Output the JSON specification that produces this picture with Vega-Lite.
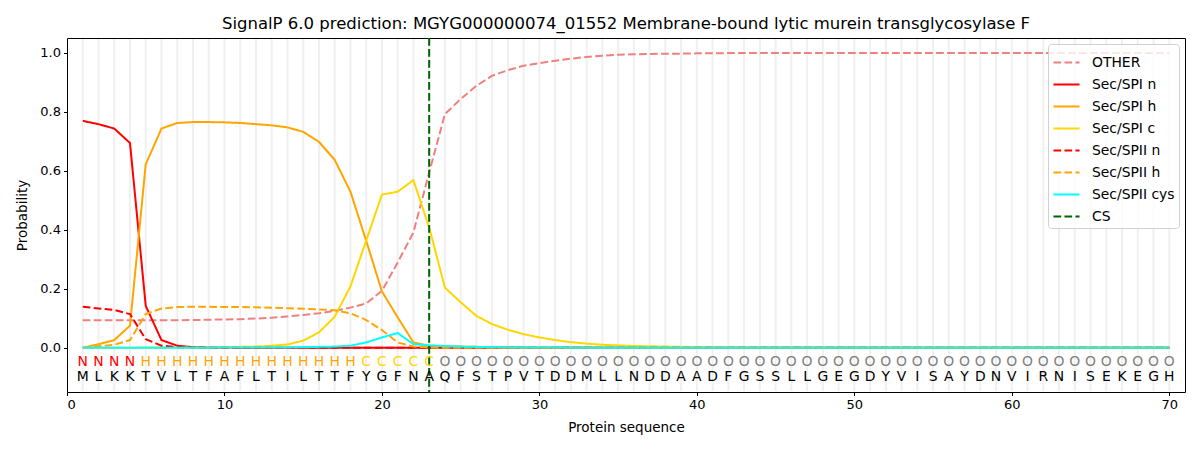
{
  "$schema": "https://vega.github.io/schema/vega-lite/v6.json",
  "autosize": {"type": "none"},
  "padding": {"left": 67, "top": 38, "right": 15, "bottom": 58},
  "width": 1118,
  "height": 354,
  "title": {
    "text": "SignalP 6.0 prediction: MGYG000000074_01552 Membrane-bound lytic murein transglycosylase F",
    "font": "DejaVu Sans",
    "fontSize": 16.5,
    "fontWeight": "normal",
    "color": "black",
    "offset": 5
  },
  "datasets": {
    "seq": [
      {"pos": 1, "aa": "M", "lab": "N", "other": 0.093, "spin": 0.769, "spih": 0.000, "spic": 0.000, "spiin": 0.139, "spiih": 0.000, "cys": 0.000},
      {"pos": 2, "aa": "L", "lab": "N", "other": 0.093, "spin": 0.758, "spih": 0.012, "spic": 0.000, "spiin": 0.133, "spiih": 0.005, "cys": 0.000},
      {"pos": 3, "aa": "K", "lab": "N", "other": 0.093, "spin": 0.743, "spih": 0.026, "spic": 0.000, "spiin": 0.128, "spiih": 0.010, "cys": 0.000},
      {"pos": 4, "aa": "K", "lab": "N", "other": 0.093, "spin": 0.694, "spih": 0.075, "spic": 0.000, "spiin": 0.114, "spiih": 0.026, "cys": 0.000},
      {"pos": 5, "aa": "T", "lab": "H", "other": 0.093, "spin": 0.142, "spih": 0.622, "spic": 0.001, "spiin": 0.029, "spiih": 0.114, "cys": 0.000},
      {"pos": 6, "aa": "V", "lab": "H", "other": 0.093, "spin": 0.026, "spih": 0.743, "spic": 0.001, "spiin": 0.007, "spiih": 0.133, "cys": 0.000},
      {"pos": 7, "aa": "L", "lab": "H", "other": 0.093, "spin": 0.007, "spih": 0.762, "spic": 0.001, "spiin": 0.002, "spiih": 0.138, "cys": 0.000},
      {"pos": 8, "aa": "T", "lab": "H", "other": 0.094, "spin": 0.002, "spih": 0.765, "spic": 0.001, "spiin": 0.001, "spiih": 0.139, "cys": 0.000},
      {"pos": 9, "aa": "F", "lab": "H", "other": 0.095, "spin": 0.001, "spih": 0.765, "spic": 0.001, "spiin": 0.000, "spiih": 0.139, "cys": 0.000},
      {"pos": 10, "aa": "A", "lab": "H", "other": 0.096, "spin": 0.001, "spih": 0.764, "spic": 0.002, "spiin": 0.000, "spiih": 0.138, "cys": 0.001},
      {"pos": 11, "aa": "F", "lab": "H", "other": 0.097, "spin": 0.000, "spih": 0.762, "spic": 0.003, "spiin": 0.000, "spiih": 0.138, "cys": 0.001},
      {"pos": 12, "aa": "L", "lab": "H", "other": 0.099, "spin": 0.000, "spih": 0.758, "spic": 0.004, "spiin": 0.000, "spiih": 0.137, "cys": 0.001},
      {"pos": 13, "aa": "T", "lab": "H", "other": 0.102, "spin": 0.000, "spih": 0.754, "spic": 0.007, "spiin": 0.000, "spiih": 0.136, "cys": 0.001},
      {"pos": 14, "aa": "I", "lab": "H", "other": 0.106, "spin": 0.000, "spih": 0.747, "spic": 0.011, "spiin": 0.000, "spiih": 0.134, "cys": 0.001},
      {"pos": 15, "aa": "L", "lab": "H", "other": 0.111, "spin": 0.000, "spih": 0.732, "spic": 0.024, "spiin": 0.000, "spiih": 0.132, "cys": 0.002},
      {"pos": 16, "aa": "T", "lab": "H", "other": 0.117, "spin": 0.000, "spih": 0.698, "spic": 0.052, "spiin": 0.000, "spiih": 0.130, "cys": 0.003},
      {"pos": 17, "aa": "T", "lab": "H", "other": 0.125, "spin": 0.000, "spih": 0.637, "spic": 0.105, "spiin": 0.000, "spiih": 0.127, "cys": 0.004},
      {"pos": 18, "aa": "F", "lab": "H", "other": 0.136, "spin": 0.000, "spih": 0.529, "spic": 0.208, "spiin": 0.000, "spiih": 0.117, "cys": 0.007},
      {"pos": 19, "aa": "Y", "lab": "C", "other": 0.150, "spin": 0.000, "spih": 0.363, "spic": 0.363, "spiin": 0.000, "spiih": 0.094, "cys": 0.018},
      {"pos": 20, "aa": "G", "lab": "C", "other": 0.193, "spin": 0.000, "spih": 0.191, "spic": 0.519, "spiin": 0.000, "spiih": 0.060, "cys": 0.035},
      {"pos": 21, "aa": "F", "lab": "C", "other": 0.289, "spin": 0.000, "spih": 0.103, "spic": 0.529, "spiin": 0.000, "spiih": 0.018, "cys": 0.050},
      {"pos": 22, "aa": "N", "lab": "C", "other": 0.391, "spin": 0.000, "spih": 0.018, "spic": 0.568, "spiin": 0.000, "spiih": 0.004, "cys": 0.012},
      {"pos": 23, "aa": "A", "lab": "C", "other": 0.594, "spin": 0.000, "spih": 0.007, "spic": 0.408, "spiin": 0.000, "spiih": 0.001, "cys": 0.008},
      {"pos": 24, "aa": "Q", "lab": "O", "other": 0.792, "spin": 0.000, "spih": 0.005, "spic": 0.204, "spiin": 0.000, "spiih": 0.000, "cys": 0.006},
      {"pos": 25, "aa": "F", "lab": "O", "other": 0.843, "spin": 0.000, "spih": 0.004, "spic": 0.154, "spiin": 0.000, "spiih": 0.000, "cys": 0.004},
      {"pos": 26, "aa": "S", "lab": "O", "other": 0.888, "spin": 0.000, "spih": 0.003, "spic": 0.108, "spiin": 0.000, "spiih": 0.000, "cys": 0.003},
      {"pos": 27, "aa": "T", "lab": "O", "other": 0.922, "spin": 0.000, "spih": 0.002, "spic": 0.080, "spiin": 0.000, "spiih": 0.000, "cys": 0.002},
      {"pos": 28, "aa": "P", "lab": "O", "other": 0.941, "spin": 0.000, "spih": 0.002, "spic": 0.061, "spiin": 0.000, "spiih": 0.000, "cys": 0.001},
      {"pos": 29, "aa": "V", "lab": "O", "other": 0.956, "spin": 0.000, "spih": 0.001, "spic": 0.046, "spiin": 0.000, "spiih": 0.000, "cys": 0.001},
      {"pos": 30, "aa": "T", "lab": "O", "other": 0.965, "spin": 0.000, "spih": 0.001, "spic": 0.035, "spiin": 0.000, "spiih": 0.000, "cys": 0.001},
      {"pos": 31, "aa": "D", "lab": "O", "other": 0.973, "spin": 0.000, "spih": 0.001, "spic": 0.026, "spiin": 0.000, "spiih": 0.000, "cys": 0.001},
      {"pos": 32, "aa": "D", "lab": "O", "other": 0.980, "spin": 0.000, "spih": 0.001, "spic": 0.019, "spiin": 0.000, "spiih": 0.000, "cys": 0.000},
      {"pos": 33, "aa": "M", "lab": "O", "other": 0.986, "spin": 0.000, "spih": 0.001, "spic": 0.014, "spiin": 0.000, "spiih": 0.000, "cys": 0.000},
      {"pos": 34, "aa": "L", "lab": "O", "other": 0.990, "spin": 0.000, "spih": 0.000, "spic": 0.010, "spiin": 0.000, "spiih": 0.000, "cys": 0.000},
      {"pos": 35, "aa": "L", "lab": "O", "other": 0.993, "spin": 0.000, "spih": 0.000, "spic": 0.008, "spiin": 0.000, "spiih": 0.000, "cys": 0.000},
      {"pos": 36, "aa": "N", "lab": "O", "other": 0.995, "spin": 0.000, "spih": 0.000, "spic": 0.006, "spiin": 0.000, "spiih": 0.000, "cys": 0.000},
      {"pos": 37, "aa": "D", "lab": "O", "other": 0.996, "spin": 0.000, "spih": 0.000, "spic": 0.005, "spiin": 0.000, "spiih": 0.000, "cys": 0.000},
      {"pos": 38, "aa": "D", "lab": "O", "other": 0.997, "spin": 0.000, "spih": 0.000, "spic": 0.004, "spiin": 0.000, "spiih": 0.000, "cys": 0.000},
      {"pos": 39, "aa": "A", "lab": "O", "other": 0.997, "spin": 0.000, "spih": 0.000, "spic": 0.003, "spiin": 0.000, "spiih": 0.000, "cys": 0.000},
      {"pos": 40, "aa": "A", "lab": "O", "other": 0.998, "spin": 0.000, "spih": 0.000, "spic": 0.002, "spiin": 0.000, "spiih": 0.000, "cys": 0.000},
      {"pos": 41, "aa": "D", "lab": "O", "other": 0.998, "spin": 0.000, "spih": 0.000, "spic": 0.002, "spiin": 0.000, "spiih": 0.000, "cys": 0.000},
      {"pos": 42, "aa": "F", "lab": "O", "other": 0.999, "spin": 0.000, "spih": 0.000, "spic": 0.001, "spiin": 0.000, "spiih": 0.000, "cys": 0.000},
      {"pos": 43, "aa": "G", "lab": "O", "other": 0.999, "spin": 0.000, "spih": 0.000, "spic": 0.001, "spiin": 0.000, "spiih": 0.000, "cys": 0.000},
      {"pos": 44, "aa": "S", "lab": "O", "other": 0.999, "spin": 0.000, "spih": 0.000, "spic": 0.001, "spiin": 0.000, "spiih": 0.000, "cys": 0.000},
      {"pos": 45, "aa": "S", "lab": "O", "other": 0.999, "spin": 0.000, "spih": 0.000, "spic": 0.001, "spiin": 0.000, "spiih": 0.000, "cys": 0.000},
      {"pos": 46, "aa": "L", "lab": "O", "other": 0.999, "spin": 0.000, "spih": 0.000, "spic": 0.001, "spiin": 0.000, "spiih": 0.000, "cys": 0.000},
      {"pos": 47, "aa": "L", "lab": "O", "other": 0.999, "spin": 0.000, "spih": 0.000, "spic": 0.001, "spiin": 0.000, "spiih": 0.000, "cys": 0.000},
      {"pos": 48, "aa": "G", "lab": "O", "other": 0.999, "spin": 0.000, "spih": 0.000, "spic": 0.001, "spiin": 0.000, "spiih": 0.000, "cys": 0.000},
      {"pos": 49, "aa": "E", "lab": "O", "other": 0.999, "spin": 0.000, "spih": 0.000, "spic": 0.001, "spiin": 0.000, "spiih": 0.000, "cys": 0.000},
      {"pos": 50, "aa": "G", "lab": "O", "other": 0.999, "spin": 0.000, "spih": 0.000, "spic": 0.001, "spiin": 0.000, "spiih": 0.000, "cys": 0.000},
      {"pos": 51, "aa": "D", "lab": "O", "other": 0.999, "spin": 0.000, "spih": 0.000, "spic": 0.001, "spiin": 0.000, "spiih": 0.000, "cys": 0.000},
      {"pos": 52, "aa": "Y", "lab": "O", "other": 0.999, "spin": 0.000, "spih": 0.000, "spic": 0.001, "spiin": 0.000, "spiih": 0.000, "cys": 0.000},
      {"pos": 53, "aa": "V", "lab": "O", "other": 0.999, "spin": 0.000, "spih": 0.000, "spic": 0.001, "spiin": 0.000, "spiih": 0.000, "cys": 0.000},
      {"pos": 54, "aa": "I", "lab": "O", "other": 0.999, "spin": 0.000, "spih": 0.000, "spic": 0.001, "spiin": 0.000, "spiih": 0.000, "cys": 0.000},
      {"pos": 55, "aa": "S", "lab": "O", "other": 0.999, "spin": 0.000, "spih": 0.000, "spic": 0.001, "spiin": 0.000, "spiih": 0.000, "cys": 0.000},
      {"pos": 56, "aa": "A", "lab": "O", "other": 0.999, "spin": 0.000, "spih": 0.000, "spic": 0.001, "spiin": 0.000, "spiih": 0.000, "cys": 0.000},
      {"pos": 57, "aa": "Y", "lab": "O", "other": 0.999, "spin": 0.000, "spih": 0.000, "spic": 0.001, "spiin": 0.000, "spiih": 0.000, "cys": 0.000},
      {"pos": 58, "aa": "D", "lab": "O", "other": 0.999, "spin": 0.000, "spih": 0.000, "spic": 0.001, "spiin": 0.000, "spiih": 0.000, "cys": 0.000},
      {"pos": 59, "aa": "N", "lab": "O", "other": 0.999, "spin": 0.000, "spih": 0.000, "spic": 0.001, "spiin": 0.000, "spiih": 0.000, "cys": 0.000},
      {"pos": 60, "aa": "V", "lab": "O", "other": 0.999, "spin": 0.000, "spih": 0.000, "spic": 0.001, "spiin": 0.000, "spiih": 0.000, "cys": 0.000},
      {"pos": 61, "aa": "I", "lab": "O", "other": 0.999, "spin": 0.000, "spih": 0.000, "spic": 0.001, "spiin": 0.000, "spiih": 0.000, "cys": 0.000},
      {"pos": 62, "aa": "R", "lab": "O", "other": 0.999, "spin": 0.000, "spih": 0.000, "spic": 0.001, "spiin": 0.000, "spiih": 0.000, "cys": 0.000},
      {"pos": 63, "aa": "N", "lab": "O", "other": 0.999, "spin": 0.000, "spih": 0.000, "spic": 0.001, "spiin": 0.000, "spiih": 0.000, "cys": 0.000},
      {"pos": 64, "aa": "I", "lab": "O", "other": 0.999, "spin": 0.000, "spih": 0.000, "spic": 0.001, "spiin": 0.000, "spiih": 0.000, "cys": 0.000},
      {"pos": 65, "aa": "S", "lab": "O", "other": 0.999, "spin": 0.000, "spih": 0.000, "spic": 0.001, "spiin": 0.000, "spiih": 0.000, "cys": 0.000},
      {"pos": 66, "aa": "E", "lab": "O", "other": 0.999, "spin": 0.000, "spih": 0.000, "spic": 0.001, "spiin": 0.000, "spiih": 0.000, "cys": 0.000},
      {"pos": 67, "aa": "K", "lab": "O", "other": 0.999, "spin": 0.000, "spih": 0.000, "spic": 0.001, "spiin": 0.000, "spiih": 0.000, "cys": 0.000},
      {"pos": 68, "aa": "E", "lab": "O", "other": 0.999, "spin": 0.000, "spih": 0.000, "spic": 0.001, "spiin": 0.000, "spiih": 0.000, "cys": 0.000},
      {"pos": 69, "aa": "G", "lab": "O", "other": 0.999, "spin": 0.000, "spih": 0.000, "spic": 0.001, "spiin": 0.000, "spiih": 0.000, "cys": 0.000},
      {"pos": 70, "aa": "H", "lab": "O", "other": 0.999, "spin": 0.000, "spih": 0.000, "spic": 0.001, "spiin": 0.000, "spiih": 0.000, "cys": 0.000}
    ],
    "cs": [{"pos": 23, "series": "cs"}]
  },
  "data": {"name": "seq"},
  "layer": [
    {
      "mark": {"type": "rule", "color": "#f0f0f0", "strokeWidth": 2},
      "encoding": {
        "x": {"field": "pos", "type": "quantitative"},
        "y": {"datum": -0.147},
        "y2": {"datum": 1.047}
      }
    },
    {
      "transform": [
        {"fold": ["other", "spin", "spih", "spic", "spiin", "spiih", "cys"], "as": ["series", "p"]}
      ],
      "mark": {"type": "line", "strokeWidth": 2},
      "encoding": {
        "x": {"field": "pos", "type": "quantitative"},
        "y": {"field": "p", "type": "quantitative"},
        "color": {"field": "series", "type": "nominal"},
        "strokeDash": {"field": "series", "type": "nominal"}
      }
    },
    {
      "data": {"name": "cs"},
      "mark": {"type": "rule", "strokeWidth": 2},
      "encoding": {
        "x": {"field": "pos", "type": "quantitative"},
        "color": {"field": "series", "type": "nominal"},
        "strokeDash": {"field": "series", "type": "nominal"}
      }
    },
    {
      "mark": {"type": "text", "font": "DejaVu Sans", "fontSize": 13.9, "baseline": "middle"},
      "encoding": {
        "x": {"field": "pos", "type": "quantitative"},
        "y": {"datum": -0.047},
        "text": {"field": "lab"},
        "color": {
          "condition": [
            {"test": "datum.lab === 'N'", "value": "#ff0000"},
            {"test": "datum.lab === 'H'", "value": "#ffa500"},
            {"test": "datum.lab === 'C'", "value": "#ffd700"}
          ],
          "value": "#808080"
        }
      }
    },
    {
      "mark": {"type": "text", "font": "DejaVu Sans", "fontSize": 13.9, "baseline": "middle", "color": "black"},
      "encoding": {
        "x": {"field": "pos", "type": "quantitative"},
        "y": {"datum": -0.099},
        "text": {"field": "aa"}
      }
    }
  ],
  "encoding": {
    "x": {
      "type": "quantitative",
      "scale": {"domain": [0, 71], "nice": false, "zero": false},
      "axis": {"title": "Protein sequence", "values": [0, 10, 20, 30, 40, 50, 60, 70], "grid": false}
    },
    "y": {
      "type": "quantitative",
      "scale": {"domain": [-0.15, 1.05], "nice": false},
      "axis": {"title": "Probability", "values": [0, 0.2, 0.4, 0.6, 0.8, 1.0], "format": ".1f", "grid": false}
    },
    "color": {
      "scale": {
        "domain": ["other", "spin", "spih", "spic", "spiin", "spiih", "cys", "cs"],
        "range": ["#f08080", "#ff0000", "#ffa500", "#ffd700", "#ff0000", "#ffa500", "#00ffff", "#006400"]
      },
      "legend": {
        "title": null,
        "orient": "top-right",
        "offset": 6,
        "symbolType": "stroke",
        "labelExpr": "{'other': 'OTHER', 'spin': 'Sec/SPI n', 'spih': 'Sec/SPI h', 'spic': 'Sec/SPI c', 'spiin': 'Sec/SPII n', 'spiih': 'Sec/SPII h', 'cys': 'Sec/SPII cys', 'cs': 'CS'}[datum.label]"
      }
    },
    "strokeDash": {
      "scale": {
        "domain": ["other", "spin", "spih", "spic", "spiin", "spiih", "cys", "cs"],
        "range": [[7.7, 3.3], [1, 0], [1, 0], [1, 0], [7.7, 3.3], [7.7, 3.3], [1, 0], [7.7, 3.3]]
      },
      "legend": {
        "title": null,
        "orient": "top-right",
        "offset": 6,
        "symbolType": "stroke",
        "labelExpr": "{'other': 'OTHER', 'spin': 'Sec/SPI n', 'spih': 'Sec/SPI h', 'spic': 'Sec/SPI c', 'spiin': 'Sec/SPII n', 'spiih': 'Sec/SPII h', 'cys': 'Sec/SPII cys', 'cs': 'CS'}[datum.label]"
      }
    }
  },
  "config": {
    "font": "DejaVu Sans",
    "view": {"stroke": "black", "strokeWidth": 1},
    "axis": {
      "domain": false,
      "tickColor": "black",
      "tickSize": 3.5,
      "labelColor": "black",
      "labelFont": "DejaVu Sans",
      "labelFontSize": 13,
      "labelPadding": 3,
      "titleFont": "DejaVu Sans",
      "titleFontSize": 13.5,
      "titleFontWeight": "normal",
      "titleColor": "black"
    },
    "axisX": {"titlePadding": 9},
    "axisY": {"titlePadding": 10},
    "legend": {
      "labelFont": "DejaVu Sans",
      "labelFontSize": 13.9,
      "labelColor": "black",
      "symbolSize": 680,
      "symbolStrokeWidth": 2,
      "rowPadding": 0,
      "labelOffset": 11,
      "padding": 4,
      "strokeColor": "#d0d0d0",
      "fillColor": "rgba(255,255,255,0.8)",
      "cornerRadius": 3
    }
  }
}
